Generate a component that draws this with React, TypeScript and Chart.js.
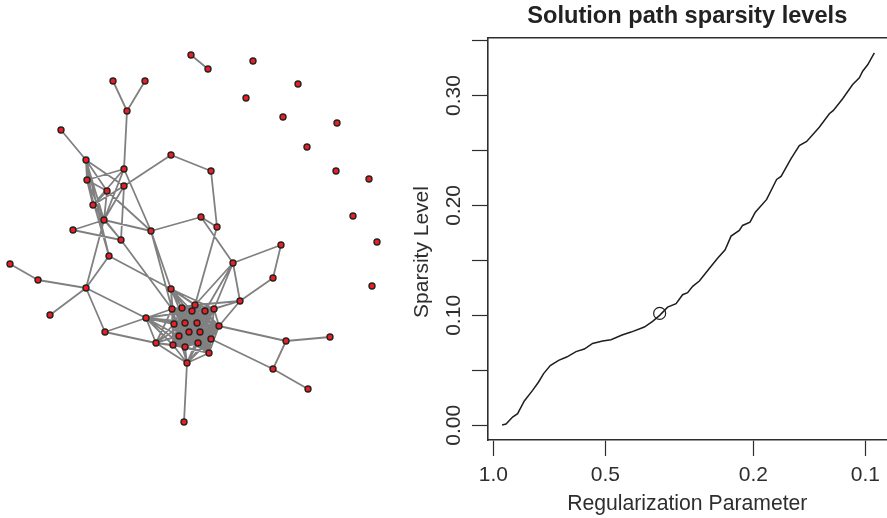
import React, { useEffect, useRef } from "react";
import { Chart, registerables } from "chart.js";

Chart.register(...registerables);

// ---- network layout (node positions in layout units) ----
const nodeX = [
  191, 208, 253, 298, 246, 283, 337, 307, 336, 369, 353, 377, 372, // 0-12 top right
  113, 145, 127, 61, // 13-16
  86, 124, 171, 211, 87, 124, 107, 93, 104, 73, 121, 151, 201, 217, 109, 233, // 17-32
  10, 38, 86, 171, // 33-36
  50, 105, 146, 156, 240, 281, 273, // 37-43
  172, 182, 195, 192, 205, 214, 174, 185, 197, 219, 179, 189, 200, 211, 173, 185, 198, 209, // 44-61
  187, 184, 286, 330, 273, 308, // 62-67
];
const nodeY = [
  55, 69, 61, 84, 98, 117, 123, 147, 171, 179, 216, 242, 286,
  81, 81, 111, 130,
  160, 169, 155, 171, 180, 186, 191, 205, 220, 230, 240, 231, 217, 227, 256, 263,
  264, 280, 288, 289,
  315, 332, 318, 343, 301, 245, 278,
  309, 308, 305, 311, 311, 309, 324, 323, 323, 326, 336, 332, 332, 339, 345, 347, 343, 353,
  363, 422, 341, 337, 369, 389,
];
const denseCore = [44, 45, 46, 47, 48, 49, 50, 51, 52, 53, 54, 55, 56, 57, 58, 59, 60, 61];
const looseEdges: [number, number][] = [
  [0, 1], [13, 15], [14, 15], [15, 18], [16, 17],
  [17, 21], [17, 24], [17, 25], [17, 23], [17, 22], [17, 31],
  [21, 24], [21, 25], [21, 23], [21, 18], [21, 31],
  [18, 28], [18, 25], [18, 24], [22, 19], [22, 24], [22, 25], [22, 27],
  [19, 20], [20, 30], [23, 24], [23, 25], [23, 28], [24, 25], [24, 27],
  [25, 27], [25, 26], [26, 27], [25, 28], [25, 35], [28, 29], [29, 30], [29, 32],
  [28, 36], [28, 44], [27, 44], [31, 35], [31, 36], [30, 46],
  [33, 34], [34, 35], [35, 37], [35, 38], [35, 39], [38, 39], [38, 40],
  [32, 42], [42, 43], [43, 41], [32, 41], [32, 46], [32, 48], [32, 49],
  [41, 46], [41, 49], [41, 53], [41, 48],
  [36, 44], [36, 45], [36, 46], [36, 47], [36, 48], [36, 50], [36, 51], [36, 52], [36, 55], [36, 49],
  [39, 40], [39, 44], [39, 50], [39, 51], [39, 47], [39, 54], [39, 58], [39, 59], [39, 52],
  [40, 44], [40, 50], [40, 51], [40, 54], [40, 55], [40, 58], [40, 59], [40, 62],
  [62, 58], [62, 59], [62, 60], [62, 61], [62, 57], [62, 54], [62, 56], [62, 53], [62, 63],
  [53, 64], [64, 65], [64, 66], [66, 67], [57, 66],
];

// ---- solution path ----
const lambdaValues = [
  0.947, 0.9244, 0.8874, 0.8603, 0.8254, 0.7841, 0.7556, 0.7325, 0.7028, 0.6675, 0.6351, 0.5993, 0.5694,
  0.5409, 0.5084, 0.4826, 0.4508, 0.4264, 0.3927, 0.3731, 0.3572, 0.34, 0.3227, 0.3099, 0.3004, 0.2912,
  0.2794, 0.2627, 0.2499, 0.2382, 0.2296, 0.2182, 0.2138, 0.2042, 0.1976, 0.1842, 0.1732, 0.1685, 0.1584,
  0.1505, 0.1438, 0.133, 0.125, 0.1219, 0.1151, 0.1082, 0.1038, 0.1017, 0.0986, 0.0946,
];
const sparsityValues = [
  0.0003, 0.0012, 0.0075, 0.0106, 0.0221, 0.0318, 0.0394, 0.047, 0.0543, 0.0591, 0.0621, 0.067, 0.0694,
  0.0745, 0.0766, 0.0779, 0.0821, 0.0848, 0.0894, 0.0945, 0.1, 0.1075, 0.1106, 0.1188, 0.1206, 0.1264,
  0.1312, 0.1427, 0.1518, 0.1597, 0.1721, 0.1773, 0.1818, 0.1848, 0.1939, 0.2055, 0.2236, 0.2264, 0.2425,
  0.2545, 0.2582, 0.2712, 0.2834, 0.2864, 0.297, 0.31, 0.3161, 0.3221, 0.3279, 0.3388,
];
const selectedLambda = [0.3572];
const selectedSparsity = [0.1018];
const xTicks = [1.0, 0.5, 0.2, 0.1];
const yTicks = [0, 0.05, 0.1, 0.15, 0.2, 0.25, 0.3, 0.35];
const yLabelled = [0, 0.1, 0.2, 0.3];

const FONT = "'Liberation Sans', Arial, sans-serif";
const INK = "#2e2e2e";

export default function App() {
  const leftRef = useRef<HTMLCanvasElement>(null);
  const rightRef = useRef<HTMLCanvasElement>(null);

  useEffect(() => {
    const pairs: [number, number][] = [...looseEdges];
    denseCore.forEach((a, i) => denseCore.slice(i + 1).forEach((b) => pairs.push([a, b])));
    const edgeData: any[] = [];
    pairs.forEach(([a, b]) => {
      edgeData.push({ x: nodeX[a], y: nodeY[a] }, { x: nodeX[b], y: nodeY[b] }, { x: null, y: null });
    });
    const net = new Chart(leftRef.current!, {
      type: "scatter",
      data: {
        datasets: [
          {
            data: nodeX.map((x, i) => ({ x, y: nodeY[i] })),
            pointRadius: 3,
            pointBackgroundColor: "#f01c24",
            pointBorderColor: "#232323",
            pointBorderWidth: 1.4,
            showLine: false,
            order: 0,
          },
          {
            data: edgeData,
            showLine: true,
            spanGaps: false,
            pointRadius: 0,
            borderColor: "#808080",
            borderWidth: 1.8,
            order: 1,
          },
        ],
      },
      options: {
        responsive: false,
        animation: false,
        events: [],
        layout: { padding: 0, autoPadding: false },
        plugins: { legend: { display: false }, tooltip: { enabled: false }, title: { display: false } },
        scales: {
          x: { type: "linear", min: 0, max: 440, display: false },
          y: { type: "linear", min: 0, max: 518, reverse: true, display: false },
        },
      },
    } as any);

    const path = new Chart(rightRef.current!, {
      type: "scatter",
      data: {
        datasets: [
          {
            data: lambdaValues.map((x, i) => ({ x, y: sparsityValues[i] })),
            showLine: true,
            pointRadius: 0,
            borderColor: "#1e1e1e",
            borderWidth: 1.5,
            xAxisID: "x",
            yAxisID: "y",
          },
          {
            data: selectedLambda.map((x, i) => ({ x, y: selectedSparsity[i] })),
            showLine: false,
            pointRadius: 6,
            pointBackgroundColor: "rgba(0,0,0,0)",
            pointBorderColor: "#1e1e1e",
            pointBorderWidth: 1.2,
            xAxisID: "x",
            yAxisID: "y",
          },
        ],
      },
      options: {
        responsive: false,
        animation: false,
        events: [],
        layout: { padding: 0, autoPadding: false },
        plugins: {
          legend: { display: false },
          tooltip: { enabled: false },
          title: {
            display: true,
            text: "Solution path sparsity levels",
            fullSize: false,
            color: "#222",
            font: { family: FONT, size: 23.6, weight: "bold", lineHeight: 1 },
            padding: { top: 4.7, bottom: 9.7 },
          },
        },
        scales: {
          xTop: {
            type: "linear",
            position: "top",
            min: 0,
            max: 1,
            afterFit: (s: any) => { s.height = 0; },
            ticks: { display: false },
            grid: { drawOnChartArea: false, drawTicks: false },
            border: { display: true, color: INK, width: 1.6 },
          },
          x: {
            type: "logarithmic",
            position: "bottom",
            reverse: true,
            min: 0.0877,
            max: 1.0333,
            afterBuildTicks: (s: any) => { s.ticks = xTicks.map((value) => ({ value })); },
            afterFit: (s: any) => { s.height = 78; },
            ticks: {
              autoSkip: false,
              maxRotation: 0,
              minRotation: 0,
              padding: 7,
              color: INK,
              font: { family: FONT, size: 21 },
              callback: (v: any) => Number(v).toFixed(1),
            },
            grid: { drawOnChartArea: false, tickLength: 16, tickColor: INK, tickWidth: 1.2 },
            border: { display: true, color: INK, width: 1.6 },
            title: {
              display: true,
              text: "Regularization Parameter",
              color: INK,
              font: { family: FONT, size: 21.2, lineHeight: 1 },
              padding: { top: 0, bottom: 3 },
            },
          },
          y: {
            type: "linear",
            position: "left",
            min: -0.01336,
            max: 0.3523,
            afterBuildTicks: (s: any) => { s.ticks = yTicks.map((value) => ({ value })); },
            afterFit: (s: any) => {
              s.width = 88;
              if (!s.__titleShifted) {
                s.__titleShifted = true;
                const drawTitle = s.drawTitle;
                s.drawTitle = function () {
                  const { top, bottom } = this;
                  this.top = top + 13;
                  this.bottom = bottom + 13;
                  drawTitle.call(this);
                  this.top = top;
                  this.bottom = bottom;
                };
              }
            },
            ticks: {
              autoSkip: false,
              minRotation: 90,
              maxRotation: 90,
              crossAlign: "center",
              padding: -3,
              color: INK,
              font: { family: FONT, size: 21 },
              callback: (v: any) => (yLabelled.some((t) => Math.abs(t - v) < 1e-9) ? Number(v).toFixed(2) : ""),
            },
            grid: { drawOnChartArea: false, tickLength: 16, tickColor: INK, tickWidth: 1.2 },
            border: { display: true, color: INK, width: 1.6 },
            title: {
              display: true,
              text: "Sparsity Level",
              color: INK,
              font: { family: FONT, size: 21, lineHeight: 1 },
              padding: { top: 11.5, bottom: 0 },
            },
          },
        },
      },
    } as any);

    return () => {
      net.destroy();
      path.destroy();
    };
  }, []);

  return (
    <div style={{ position: "absolute", left: 0, top: 0, width: 887, height: 518, background: "#fff", overflow: "hidden" }}>
      <canvas ref={leftRef} width={440} height={518} style={{ position: "absolute", left: 0, top: 0, display: "block" }} />
      <canvas ref={rightRef} width={487} height={518} style={{ position: "absolute", left: 400, top: 0, display: "block" }} />
    </div>
  );
}
